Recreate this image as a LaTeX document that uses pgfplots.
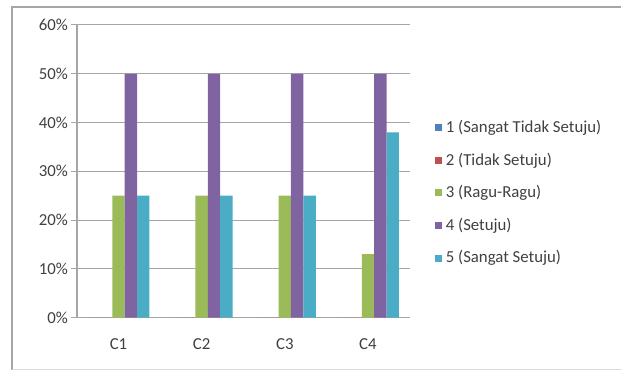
\documentclass[border=0pt]{standalone}
\usepackage{pgfplots}
\pgfplotsset{compat=1.18}
\usepackage{fontspec}
\setmainfont{Carlito}
\definecolor{s1}{HTML}{4F81BD}
\definecolor{s2}{HTML}{C0504D}
\definecolor{s3}{HTML}{9BBB59}
\definecolor{s4}{HTML}{8064A2}
\definecolor{s5}{HTML}{4BACC6}
\definecolor{txt}{HTML}{404040}
\definecolor{gridc}{HTML}{A6A6A6}
\begin{document}
\begin{tikzpicture}
\path (-38.5pt,-27pt) rectangle (272.5pt,159pt);
\draw[gray!70, line width=0.7pt] (-32.5pt,-26pt) -- (-32.5pt,155.5pt) -- (272.5pt,155.5pt);
\draw[gray!30, line width=0.5pt] (-32.5pt,-26pt) -- (272.5pt,-26pt);
\begin{axis}[
  scale only axis,
  width=166.5pt, height=146.5pt,
  ybar=0pt, bar width=6.2pt,
  xmin=-0.5, xmax=3.5,
  ymin=0, ymax=60,
  ytick={0,10,...,60},
  yticklabel={\pgfmathprintnumber{\tick}\%},
  xtick={0,1,2,3},
  xticklabels={C1,C2,C3,C4},
  xmajorgrids=false, xminorgrids=false, yminorgrids=false,
  ymajorgrids=true,
  extra x ticks={0.5,1.5,2.5,3.5},
  extra x tick labels={},
  extra x tick style={grid=none, xmajorgrids=false, major tick length=3pt, tick style={draw=gridc, line width=0.5pt}},
  major x tick style={draw=none},
  y tick style={draw=gridc, line width=0.5pt},
  major tick length=3pt,
  tick align=outside,
  xtick pos=left, ytick pos=left,
  major grid style={draw=gridc, line width=0.5pt},
  axis x line*=bottom,
  axis y line*=left,
  axis line style={draw=gridc, line width=0.6pt},
  every axis plot/.append style={draw=none},
  tick label style={font=\fontsize{8.4}{10}\selectfont, text=txt},
  /pgf/number format/assume math mode=true,
  xticklabel style={yshift=-4pt},
  yticklabel style={xshift=2pt},
  legend style={
    at={(1.075,0.69)}, anchor=north west,
    draw=none, fill=none,
    font=\fontsize{8.4}{10}\selectfont, text=txt,
    row sep=4.7pt,
    inner xsep=0pt, inner ysep=0pt,
    /tikz/every even column/.append style={column sep=0pt},
  },
  legend cell align=left,
  legend image code/.code={\fill[#1] (0pt,-1.7pt) rectangle (3.5pt,1.8pt);},
]
\addplot[fill=s1] coordinates {(0,0) (1,0) (2,0) (3,0)};
\addplot[fill=s2] coordinates {(0,0) (1,0) (2,0) (3,0)};
\addplot[fill=s3] coordinates {(0,25) (1,25) (2,25) (3,13)};
\addplot[fill=s4] coordinates {(0,50) (1,50) (2,50) (3,50)};
\addplot[fill=s5] coordinates {(0,25) (1,25) (2,25) (3,38)};
\legend{1 (Sangat Tidak Setuju),2 (Tidak Setuju),3 (Ragu-Ragu),4 (Setuju),5 (Sangat Setuju)}
\end{axis}
\end{tikzpicture}
\end{document}
